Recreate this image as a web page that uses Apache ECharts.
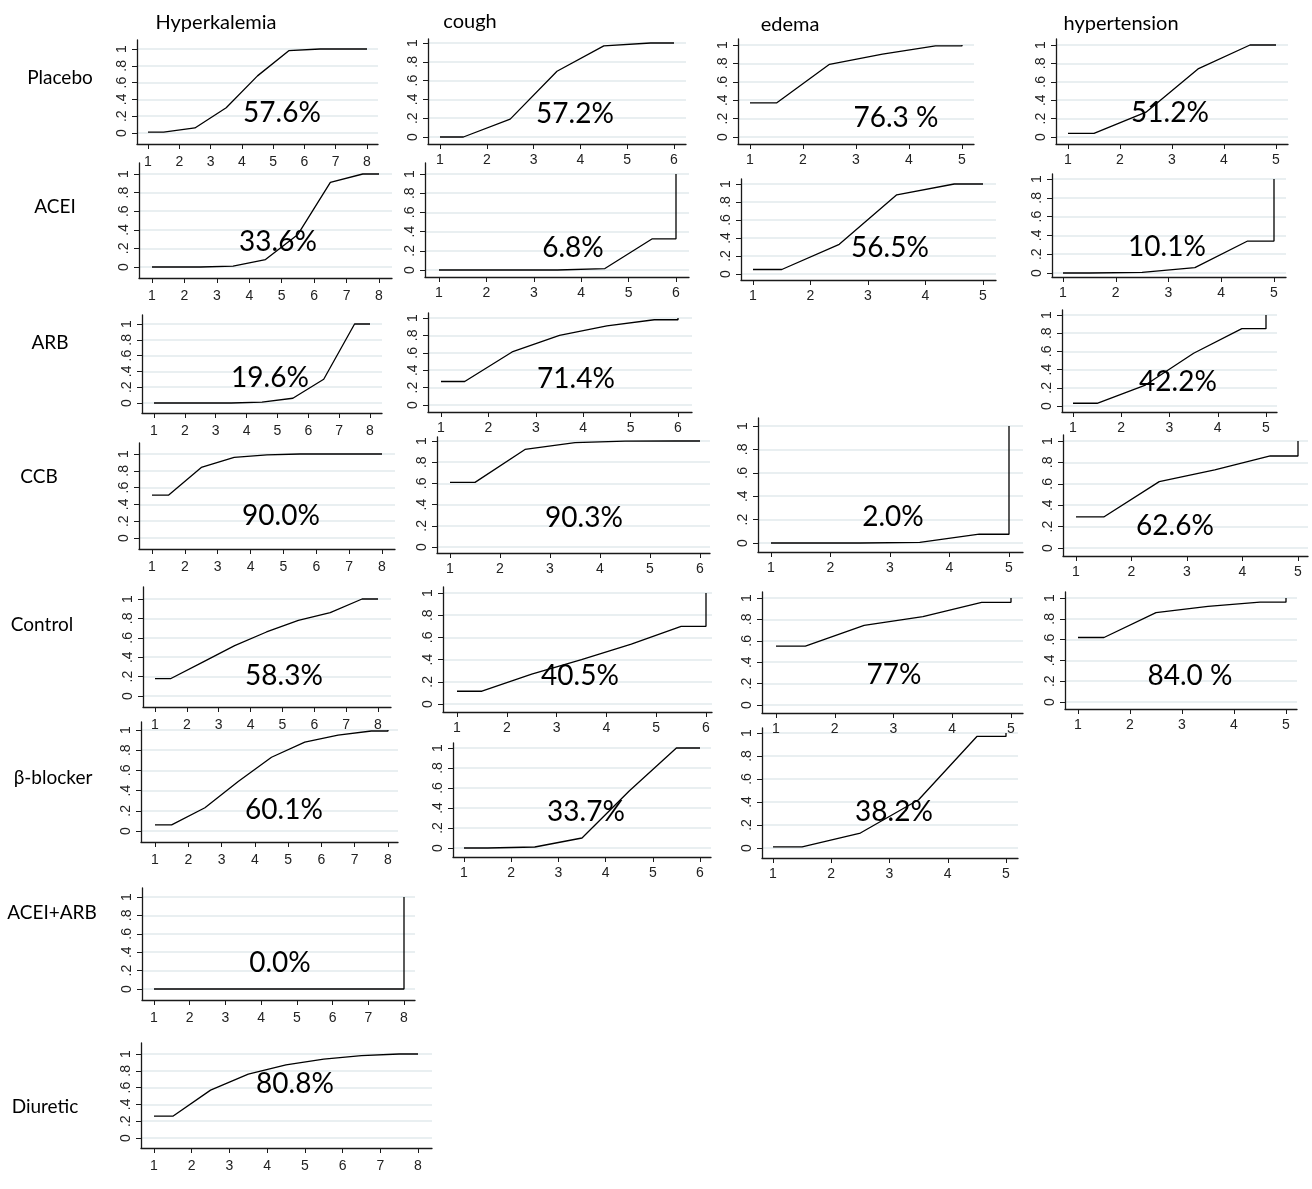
<!DOCTYPE html>
<html>
<head>
<meta charset="utf-8">
<script src="https://cdn.jsdelivr.net/npm/echarts@6/dist/echarts.min.js"></script>
<style>
  html, body { margin: 0; padding: 0; background: #fff; }
  #chart { width: 1312px; height: 1189px; }
</style>
</head>
<body>
<div id="chart"></div>
<script>
// Cumulative ranking curves (SUCRA) per treatment and adverse outcome.
// Each array holds P(rank <= k) for k = 1 .. n-1; the last rank is always 1.

const outcomes = ['Hyperkalemia', 'cough', 'edema', 'hypertension'];
const treatments = ['Placebo', 'ACEI', 'ARB', 'CCB', 'Control', 'β-blocker', 'ACEI+ARB', 'Diuretic'];

// rank tick labels
const ranks8 = [1, 2, 3, 4, 5, 6, 7, 8];
const ranks6 = [1, 2, 3, 4, 5, 6];
const ranks5 = [1, 2, 3, 4, 5];
const probTicks = [0, 0.2, 0.4, 0.6, 0.8, 1];

// Hyperkalemia (8 ranks)
const hyperPlacebo  = [0.01, 0.06, 0.30, 0.68, 0.98, 1.00, 1.00];
const hyperACEI     = [0.00, 0.00, 0.01, 0.08, 0.35, 0.91, 1.00];
const hyperARB      = [0.00, 0.00, 0.00, 0.01, 0.06, 0.30, 1.00];
const hyperCCB      = [0.51, 0.84, 0.96, 0.99, 1.00, 1.00, 1.00];
const hyperControl  = [0.18, 0.35, 0.52, 0.66, 0.78, 0.86, 1.00];
const hyperBeta     = [0.06, 0.23, 0.49, 0.73, 0.88, 0.95, 0.99];
const hyperAceiArb  = [0.00, 0.00, 0.00, 0.00, 0.00, 0.00, 0.00];
const hyperDiuretic = [0.26, 0.57, 0.76, 0.87, 0.94, 0.98, 1.00];

// cough (6 ranks)
const coughPlacebo = [0.00, 0.19, 0.70, 0.97, 1.00];
const coughACEI    = [0.00, 0.00, 0.00, 0.015, 0.325];
const coughARB     = [0.27, 0.61, 0.80, 0.91, 0.98];
const coughCCB     = [0.61, 0.92, 0.985, 0.998, 1.00];
const coughControl = [0.115, 0.27, 0.40, 0.54, 0.70];
const coughBeta    = [0.00, 0.01, 0.10, 0.57, 1.00];

// edema (5 ranks)
const edemaPlacebo = [0.37, 0.79, 0.90, 0.99];
const edemaACEI    = [0.05, 0.33, 0.88, 1.00];
const edemaCCB     = [0.00, 0.00, 0.005, 0.075];
const edemaControl = [0.55, 0.745, 0.825, 0.96];
const edemaBeta    = [0.01, 0.13, 0.42, 0.97];

// hypertension (5 ranks)
const htnPlacebo = [0.04, 0.27, 0.74, 1.00];
const htnACEI    = [0.00, 0.007, 0.057, 0.34];
const htnARB     = [0.03, 0.23, 0.58, 0.85];
const htnCCB     = [0.29, 0.62, 0.73, 0.86];
const htnControl = [0.62, 0.86, 0.92, 0.96];

// SUCRA labels
const sucraHyper = ['57.6%', '33.6%', '19.6%', '90.0%', '58.3%', '60.1%', '0.0%', '80.8%'];
const sucraCough = ['57.2%', '6.8%', '71.4%', '90.3%', '40.5%', '33.7%'];
const sucraEdema = ['76.3 %', '56.5%', '2.0%', '77%', '38.2%'];
const sucraHtn   = ['51.2%', '10.1%', '42.2%', '62.6%', '84.0 %'];

// Panel frames: [axisLeft, xOfRank1, xOfLastRank, axisRight, axisTop, yOfOne, yOfZero, axisBottom]
const panels = [
  { cum: hyperPlacebo,  ticks: ranks8, sucra: sucraHyper[0], frame: [137, 148, 367, 378, 40, 49, 133, 144],   at: [282, 113] },
  { cum: coughPlacebo,  ticks: ranks6, sucra: sucraCough[0], frame: [428, 440, 674, 686, 39, 43, 137, 144],   at: [575, 114] },
  { cum: edemaPlacebo,  ticks: ranks5, sucra: sucraEdema[0], frame: [738, 750, 962, 974, 39, 45, 137, 144],   at: [896, 118] },
  { cum: htnPlacebo,    ticks: ranks5, sucra: sucraHtn[0],   frame: [1056, 1068, 1276, 1288, 39, 45, 137, 144], at: [1170, 113] },

  { cum: hyperACEI,     ticks: ranks8, sucra: sucraHyper[1], frame: [139, 152, 379, 392, 163, 174, 267, 278], at: [278, 242] },
  { cum: coughACEI,     ticks: ranks6, sucra: sucraCough[1], frame: [425, 439, 676, 689, 163, 174, 270, 277], at: [573, 248] },
  { cum: edemaACEI,     ticks: ranks5, sucra: sucraEdema[1], frame: [741, 753, 983, 996, 179, 184, 274, 280], at: [890, 248] },
  { cum: htnACEI,       ticks: ranks5, sucra: sucraHtn[1],   frame: [1052, 1063, 1274, 1286, 174, 179, 273, 277], at: [1167, 247] },

  { cum: hyperARB,      ticks: ranks8, sucra: sucraHyper[2], frame: [142, 154, 370, 382, 315, 324, 403, 413], at: [270, 378] },
  { cum: coughARB,      ticks: ranks6, sucra: sucraCough[2], frame: [428, 441, 678, 692, 313, 318, 405, 412], at: [576, 379] },
  { cum: htnARB,        ticks: ranks5, sucra: sucraHtn[2],   frame: [1062, 1073, 1266, 1277, 310, 315, 406, 412], at: [1178, 382] },

  { cum: hyperCCB,      ticks: ranks8, sucra: sucraHyper[3], frame: [139, 152, 382, 395, 443, 454, 538, 549], at: [281, 516] },
  { cum: coughCCB,      ticks: ranks6, sucra: sucraCough[3], frame: [437, 450, 700, 710, 437, 441, 547, 553], at: [584, 518] },
  { cum: edemaCCB,      ticks: ranks5, sucra: sucraEdema[2], frame: [758, 771, 1009, 1023, 418, 426, 543, 552], at: [893, 517] },
  { cum: htnCCB,        ticks: ranks5, sucra: sucraHtn[3],   frame: [1063, 1076, 1298, 1308, 435, 441, 548, 556], at: [1175, 526] },

  { cum: hyperControl,  ticks: ranks8, sucra: sucraHyper[4], frame: [143, 155, 378, 391, 587, 599, 696, 707], at: [284, 676] },
  { cum: coughControl,  ticks: ranks6, sucra: sucraCough[4], frame: [443, 457, 706, 712, 587, 593, 704, 712], at: [580, 676] },
  { cum: edemaControl,  ticks: ranks5, sucra: sucraEdema[3], frame: [762, 776, 1011, 1023, 592, 598, 705, 713], at: [894, 675] },
  { cum: htnControl,    ticks: ranks5, sucra: sucraHtn[4],   frame: [1065, 1078, 1286, 1297, 592, 598, 702, 709], at: [1190, 676] },

  { cum: hyperBeta,     ticks: ranks8, sucra: sucraHyper[5], frame: [141, 155, 388, 398, 722, 730, 831, 842], at: [284, 810] },
  { cum: coughBeta,     ticks: ranks6, sucra: sucraCough[5], frame: [453, 464, 700, 711, 743, 748, 848, 857], at: [586, 812] },
  { cum: edemaBeta,     ticks: ranks5, sucra: sucraEdema[4], frame: [762, 773, 1006, 1018, 728, 733, 848, 858], at: [894, 812] },

  { cum: hyperAceiArb,  ticks: ranks8, sucra: sucraHyper[6], frame: [142, 154, 404, 415, 888, 897, 989, 1000], at: [280, 963] },

  { cum: hyperDiuretic, ticks: ranks8, sucra: sucraHyper[7], frame: [141, 154, 418, 432, 1043, 1054, 1138, 1148], at: [295, 1084] }
];

// Row and column heading positions (centre points)
const rowLabelAt = [[60, 78], [55, 207], [50, 343], [39, 477], [42, 625], [53, 778], [52, 913], [45, 1107]];
const colTitleAt = [[216, 23], [470, 22], [790, 25], [1121, 24]];

// Stata-style cumulative ranking line: flat over [1, 1.5], rank k plotted at k + 0.5,
// flat to the last rank and then a rise to 1.
function curvePoints(cum) {
  const n = cum.length + 1;
  const pts = [[1, cum[0]], [1.5, cum[0]]];
  for (let k = 1; k < cum.length; k++) pts.push([k + 1.5, cum[k]]);
  pts.push([n, cum[cum.length - 1]]);
  pts.push([n, 1]);
  return pts;
}

function probLabel(v) {
  if (Math.abs(v) < 1e-9) return '0';
  if (Math.abs(v - 1) < 1e-9) return '1';
  return '.' + Math.round(v * 10);
}

const axisColor = '#1a1a1a';
const tickFont = 'Liberation Sans';
const grids = [], xAxes = [], yAxes = [], series = [], graphics = [];

panels.forEach((p, i) => {
  const [left, x1, xn, right, top, y1, y0, bottom] = p.frame;
  const n = p.ticks.length;
  const ux = (xn - x1) / (n - 1);
  const uy = y0 - y1;
  const wide = n === 8;

  grids.push({
    left: left, top: top, width: right - left, height: bottom - top,
    containLabel: false, outerBoundsMode: 'none'
  });
  xAxes.push({
    gridIndex: i, type: 'value',
    min: 1 - (x1 - left) / ux, max: n + (right - xn) / ux,
    axisLine: { show: true, onZero: false, lineStyle: { color: axisColor, width: 1.3 } },
    axisTick: { show: true, length: 5, customValues: p.ticks, lineStyle: { color: axisColor, width: 1 } },
    axisLabel: { customValues: p.ticks, margin: wide ? 11 : 9, fontSize: 14, color: '#222', fontFamily: tickFont },
    splitLine: { show: false }
  });
  yAxes.push({
    gridIndex: i, type: 'value',
    min: -(bottom - y0) / uy, max: 1 + (y1 - top) / uy,
    axisLine: { show: true, onZero: false, lineStyle: { color: axisColor, width: 1.3 } },
    axisTick: { show: true, length: 5, customValues: probTicks, lineStyle: { color: axisColor, width: 1 } },
    axisLabel: {
      customValues: probTicks, rotate: 90, margin: 8, fontSize: 14, color: '#222',
      fontFamily: tickFont, formatter: probLabel
    },
    splitLine: { show: true, lineStyle: { color: '#e2eaed', width: 1.5 } }
  });
  series.push({
    type: 'line', xAxisIndex: i, yAxisIndex: i,
    data: curvePoints(p.cum),
    showSymbol: false, symbol: 'none', silent: true,
    lineStyle: { color: '#000', width: 1.3 },
    z: 3
  });
  graphics.push({
    type: 'text', x: p.at[0], y: p.at[1], z: 10,
    style: {
      text: p.sucra, fill: '#000', font: '28px Lato',
      textAlign: 'center', textVerticalAlign: 'middle', align: 'center', verticalAlign: 'middle'
    }
  });
});

treatments.forEach((t, r) => {
  graphics.push({
    type: 'text', x: rowLabelAt[r][0], y: rowLabelAt[r][1], z: 10,
    style: {
      text: t, fill: '#000', font: '19px Lato',
      textAlign: 'center', textVerticalAlign: 'middle', align: 'center', verticalAlign: 'middle'
    }
  });
});
outcomes.forEach((o, c) => {
  graphics.push({
    type: 'text', x: colTitleAt[c][0], y: colTitleAt[c][1], z: 10,
    style: {
      text: o, fill: '#000', font: '20px Lato',
      textAlign: 'center', textVerticalAlign: 'middle', align: 'center', verticalAlign: 'middle'
    }
  });
});

const chart = echarts.init(document.getElementById('chart'), null, { renderer: 'canvas' });
chart.setOption({
  animation: false,
  backgroundColor: '#fff',
  grid: grids,
  xAxis: xAxes,
  yAxis: yAxes,
  series: series,
  graphic: { elements: graphics }
});
</script>
</body>
</html>
